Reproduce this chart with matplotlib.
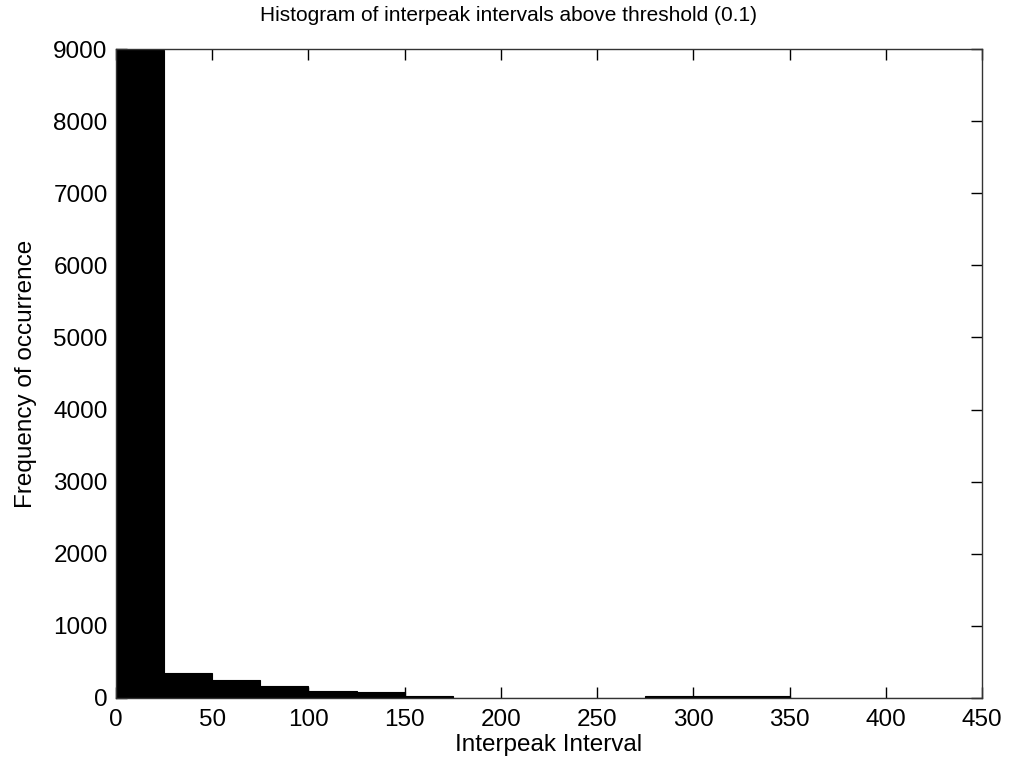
import numpy as np
import matplotlib
matplotlib.use("Agg")
import matplotlib.pyplot as plt

# Interpeak interval histogram, 25-sample bins
bin_edges = [0, 25, 50, 75, 100, 125, 150, 175, 200, 225, 250, 275, 300, 325, 350, 375, 400, 425, 450]
counts = [8985, 350, 250, 166, 101, 79, 28, 4, 0, 2, 4, 26, 22, 24, 2, 3, 1, 0]

plt.rcParams["font.family"] = ["Liberation Sans", "DejaVu Sans"]

fig = plt.figure(figsize=(10.1, 7.67), dpi=100)
ax = fig.add_axes([116 / 1010, 1 - 698 / 767, 866 / 1010, 649 / 767])

left = np.array(bin_edges[:-1])
widths = np.diff(bin_edges)
ax.bar(left, counts, width=widths, align="edge", color="black", edgecolor="black", linewidth=0.8)

ax.set_xlim(0, 450)
ax.set_ylim(0, 9000)
ax.set_xticks(np.arange(0, 451, 50))
ax.set_yticks(np.arange(0, 9001, 1000))
ax.tick_params(direction="in", length=8, width=1, top=True, right=True, labelsize=17.5, pad=6)
ax.tick_params(axis="x", pad=8)
for side in ax.spines.values():
    side.set_linewidth(1)
    side.set_color("#333333")

ax.set_title("Histogram of interpeak intervals above threshold (0.1)", fontsize=15, pad=20,
             x=(508 - 116) / 866)
ax.set_xlabel("Interpeak Interval", fontsize=17.5, labelpad=2)
ax.set_ylabel("Frequency of occurrence", fontsize=17.5, labelpad=12)

fig.savefig("out.png", dpi=100)
